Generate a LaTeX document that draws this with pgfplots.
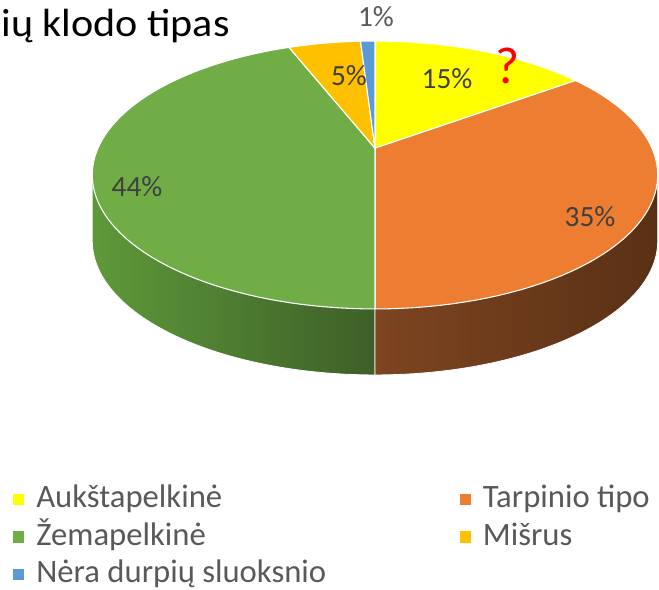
\documentclass[border=0pt]{standalone}
\usepackage{pgfplots}
\pgfplotsset{compat=1.18}
\usepackage{pgfplotstable}
\usepackage{graphicx}
\usepackage{fontspec}
\setmainfont{Carlito}
\definecolor{cYel}{HTML}{FFFF00}
\definecolor{cOra}{HTML}{ED7D31}
\definecolor{cGre}{HTML}{70AD47}
\definecolor{cGol}{HTML}{FFC000}
\definecolor{cBlu}{HTML}{5B9BD5}
\definecolor{sOraL}{HTML}{7D4520}
\definecolor{sOraM}{HTML}{5E3317}
\definecolor{sOraR}{HTML}{5A3015}
\definecolor{sGreL}{HTML}{5E9939}
\definecolor{sGreR}{HTML}{3D5F28}
\definecolor{lab}{HTML}{404040}
\definecolor{leg}{HTML}{595959}

\pgfplotstableread{
label pct
Aukstapelkine 15
Tarpinio 35
Zemapelkine 44
Misrus 5
Nera 1
}\piedata
\pgfplotstablegetelem{0}{pct}\of\piedata\pgfmathsetmacro\eA{3.6*\pgfplotsretval}%
\pgfplotstablegetelem{1}{pct}\of\piedata\pgfmathsetmacro\eB{\eA+3.6*\pgfplotsretval}%
\pgfplotstablegetelem{2}{pct}\of\piedata\pgfmathsetmacro\eC{\eB+3.6*\pgfplotsretval}%
\pgfplotstablegetelem{3}{pct}\of\piedata\pgfmathsetmacro\eD{\eC+3.6*\pgfplotsretval}%
\pgfplotstablegetelem{4}{pct}\of\piedata\pgfmathsetmacro\eE{\eD+3.6*\pgfplotsretval}%

\begin{document}%
\begin{tikzpicture}
\begin{axis}[
  scale only axis, width=494.25pt, height=441.75pt,
  xmin=0, xmax=659, ymin=0, ymax=589,
  hide axis, clip=false,
  declare function={px(\t)=375+277*sin(\t)/(1+0.2*cos(\t));
                    py(\t)=440.8+128.6*cos(\t)/(1+0.2*cos(\t));},
  legend columns=2,
  legend cell align=left,
  legend style={draw=none, fill=none, inner sep=0pt, outer sep=0pt,
    at={(axis cs:13,104)}, anchor=north west,
    font=\fontsize{24.5}{29}\selectfont, text=leg,
    nodes={inner sep=0pt, text height=17pt, text depth=5pt},
    row sep=6pt,
    /tikz/column 1/.style={column sep=9pt},
    /tikz/column 2/.style={column sep=100pt},
    /tikz/column 3/.style={column sep=9pt}},
  legend image code/.code={\fill[#1,draw=none] (0pt,-4.25pt) rectangle (8.5pt,4.25pt);},
]
% side walls
\addplot[forget plot, draw=white, line width=0.6pt, shading=axis, left color=sGreL, right color=sGreR,
  domain=\eB:258.46, samples=60, variable=\t]
  ({px(\t)},{py(\t)-66}) -- (axis cs:{px(258.46)},{py(258.46)}) -- (axis cs:375,440.8) -- (axis cs:{px(\eB)},{py(\eB)}) -- cycle;
\addplot[forget plot, draw=white, line width=0.6pt, shading=axis, left color=sOraL, middle color=sOraM, right color=sOraR,
  domain=101.54:\eB, samples=60, variable=\t]
  ({px(\t)},{py(\t)-66}) -- (axis cs:{px(\eB)},{py(\eB)}) -- (axis cs:375,440.8) -- (axis cs:{px(101.54)},{py(101.54)}) -- cycle;
% top slices
\addplot[fill=cYel, draw=white, line width=0.8pt, domain=0:\eA, samples=40, variable=\t]
  ({px(\t)},{py(\t)}) -- (axis cs:375,440.8) -- cycle;
\addlegendentry{Aukštapelkinė}
\addplot[fill=cOra, draw=white, line width=0.8pt, domain=\eA:\eB, samples=60, variable=\t]
  ({px(\t)},{py(\t)}) -- (axis cs:375,440.8) -- cycle;
\addlegendentry{Tarpinio tipo}
\addplot[fill=cGre, draw=white, line width=0.8pt, domain=\eB:\eC, samples=80, variable=\t]
  ({px(\t)},{py(\t)}) -- (axis cs:375,440.8) -- cycle;
\addlegendentry{Žemapelkinė}
\addplot[fill=cGol, draw=white, line width=0.8pt, domain=\eC:\eD, samples=20, variable=\t]
  ({px(\t)},{py(\t)}) -- (axis cs:375,440.8) -- cycle;
\addlegendentry{Mišrus}
\addplot[fill=cBlu, draw=white, line width=0.8pt, domain=\eD:\eE, samples=10, variable=\t]
  ({px(\t)},{py(\t)}) -- (axis cs:375,440.8) -- cycle;
\addlegendentry{Nėra durpių sluoksnio}
% data labels
\node[text=lab, font=\fontsize{22}{26}\selectfont] at (axis cs:447,510) {15\%};
\node[text=lab, font=\fontsize{22}{26}\selectfont] at (axis cs:590,372) {35\%};
\node[text=lab, font=\fontsize{22}{26}\selectfont] at (axis cs:137,402) {44\%};
\node[text=lab, font=\fontsize{22}{26}\selectfont] at (axis cs:349,513) {5\%};
\node[text=leg, font=\fontsize{22}{26}\selectfont] at (axis cs:376,572) {1\%};
\node[text=red, font=\fontsize{39}{45}\selectfont] at (axis cs:508,523) {?};
% title (only its visible part, as in the reference)
\node[anchor=base east, text=black, font=\fontsize{29.5}{36}\selectfont, inner sep=0pt] at (axis cs:230,552) {\scalebox{1.07}[1]{ių klodo tipas}};
\end{axis}
\pgfresetboundingbox
\path[use as bounding box] (0,0) rectangle (494.25pt,441.75pt);
\end{tikzpicture}%
\end{document}
